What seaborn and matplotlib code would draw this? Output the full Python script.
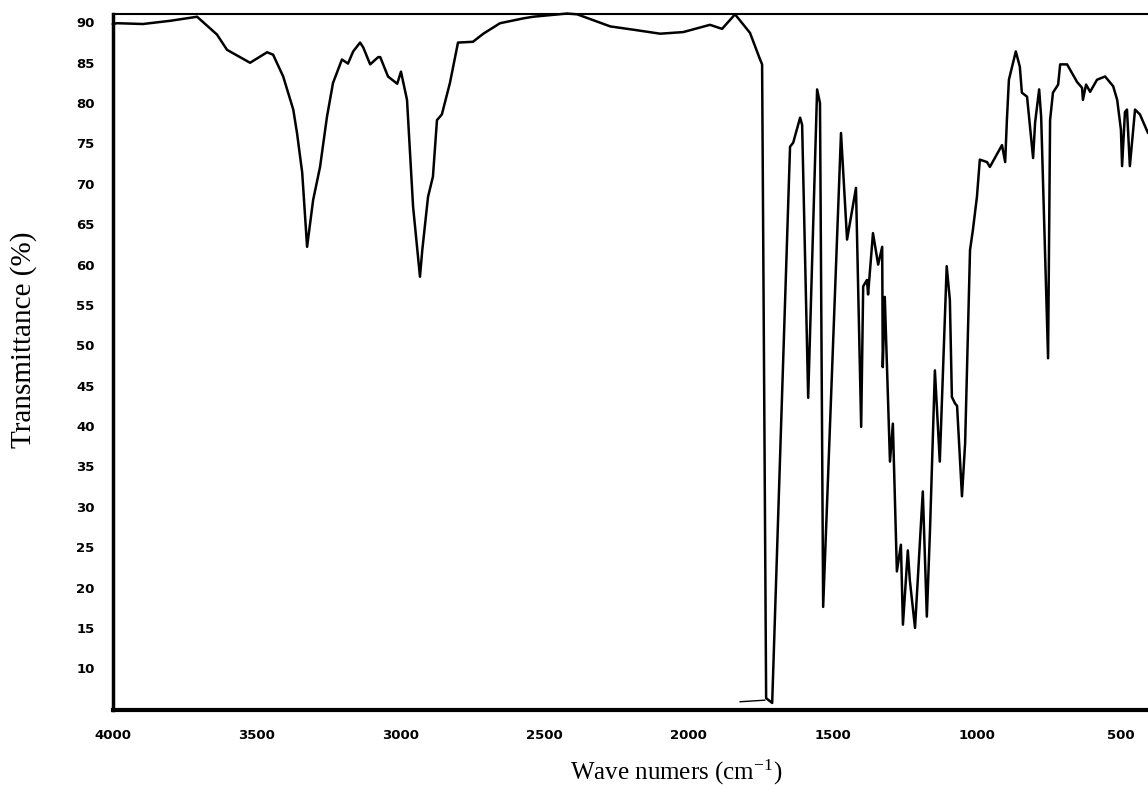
import numpy as np
import pandas as pd
import matplotlib
matplotlib.use("Agg")
import matplotlib.pyplot as plt
import seaborn as sns

# IR spectrum (wavenumber cm-1, transmittance %)
wavenumber = [4000, 3985, 3895, 3800, 3707, 3638, 3603, 3523, 3464, 3443, 3408, 3373,
              3360, 3342, 3325, 3304, 3280, 3256, 3235, 3204, 3183, 3165, 3141, 3130,
              3106, 3078, 3071, 3044, 3012, 2999, 2978, 2957, 2933, 2925, 2905, 2888,
              2874, 2857, 2829, 2801, 2749, 2713, 2655, 2574, 2540, 2422, 2387, 2272,
              2193, 2099, 2019,
              1926, 1884, 1839, 1787, 1752, 1745, 1731, 1710, 1648, 1637, 1613, 1606,
              1585, 1554, 1544, 1533, 1471, 1450, 1419, 1401, 1394, 1381, 1377, 1360,
              1342, 1328, 1326, 1319, 1301, 1291, 1277, 1263, 1256, 1239, 1232, 1214,
              1187, 1173, 1162, 1145, 1128, 1104, 1093, 1086, 1075, 1068, 1051, 1040,
              1023, 1013, 999, 989, 964, 954, 912, 901, 895, 888, 864, 850, 843, 825,
              804, 797, 783, 776, 752, 745, 735, 717, 710, 686, 651, 634, 631, 620,
              606, 582, 554, 526, 512, 499, 495, 485, 478, 468, 450, 433, 405]
transmittance = [89.8, 89.9, 89.8, 90.2, 90.7, 88.5, 86.6, 85.0, 86.3, 86.0, 83.3, 79.2,
                 76.3, 71.4, 62.2, 68.0, 72.1, 78.3, 82.5, 85.4, 84.9, 86.4, 87.5, 86.9,
                 84.8, 85.7, 85.7, 83.3, 82.4, 83.9, 80.4, 67.2, 58.5, 61.8, 68.4, 70.9,
                 77.9, 78.6, 82.5, 87.5, 87.6, 88.6, 89.9, 90.5, 90.7, 91.1, 91.0, 89.5,
                 89.1, 88.6, 88.8,
                 89.7, 89.2, 91.0, 88.7, 85.4, 84.8, 6.3, 5.7, 74.6, 75.1, 78.2, 77.3,
                 43.5, 81.7, 80.0, 17.6, 76.3, 63.1, 69.5, 39.9, 57.3, 58.1, 56.3, 63.9,
                 60.0, 62.2, 47.3, 56.0, 35.6, 40.3, 22.0, 25.3, 15.4, 24.6, 20.9, 15.0,
                 31.9, 16.4, 27.1, 46.9, 35.6, 59.8, 55.6, 43.6, 42.8, 42.5, 31.3, 37.9,
                 61.8, 64.3, 68.4, 73.0, 72.7, 72.1, 74.8, 72.7, 77.9, 82.9, 86.4, 84.5, 81.3, 80.8,
                 73.2, 77.6, 81.7, 78.3, 48.4, 77.9, 81.3, 82.3, 84.8, 84.8, 82.6, 81.9, 80.4, 82.3,
                 81.4, 82.9, 83.3, 82.1, 80.4, 76.7, 72.2, 78.9, 79.2, 72.2, 79.2, 78.6, 76.3]

# short baseline trace near the bottom of the C=O band
artifact_w = [1822, 1735]
artifact_t = [5.85, 6.05]

x_ticks = [4000, 3500, 3000, 2500, 2000, 1500, 1000, 500]
y_ticks = [10, 15, 20, 25, 30, 35, 40, 45, 50, 55, 60, 65, 70, 75, 80, 85, 90]

sns.set_style("white")
plt.rcParams["font.family"] = ["DejaVu Sans"]
plt.rcParams["mathtext.fontset"] = "stix"
plt.rcParams["axes.unicode_minus"] = False

W, H = 1148, 793
fig = plt.figure(figsize=(W / 100, H / 100), dpi=100)
left_px, right_px, top_px, bottom_px = 112.7, 1148, 14, 710
ax = fig.add_axes([left_px / W, 1 - bottom_px / H,
                   (right_px - left_px) / W, (bottom_px - top_px) / H])

df = pd.DataFrame({"w": wavenumber, "t": transmittance})
sns.lineplot(data=df, x="w", y="t", sort=False, estimator=None, ax=ax,
             color="black", linewidth=1.8)
for line in ax.get_lines():
    line.set_clip_on(False)
df2 = pd.DataFrame({"w": artifact_w, "t": artifact_t})
sns.lineplot(data=df2, x="w", y="t", sort=False, estimator=None, ax=ax,
             color="black", linewidth=1.0)

ax.set_xlim(4000, 405)
ax.set_ylim(4.83, 91.04)
ax.set_xticks(x_ticks)
ax.set_yticks(y_ticks)
ax.set_xticklabels([str(v) for v in x_ticks], fontsize=9.5, fontweight="bold")
ax.set_yticklabels([str(v) for v in y_ticks], fontsize=9.5, fontweight="bold")
ax.tick_params(axis="x", direction="out", length=3, width=0.8, pad=11, colors="black")
ax.tick_params(axis="y", length=0, pad=13, colors="black")
ax.set_xlabel("")
ax.set_ylabel("")

for side in ["left", "bottom", "top", "right"]:
    ax.spines[side].set_color("black")
ax.spines["left"].set_linewidth(2.5)
ax.spines["bottom"].set_linewidth(3.0)
ax.spines["top"].set_linewidth(1.5)
ax.spines["right"].set_visible(False)

fig.text(24 / W, 1 - 340 / H, "Transmittance (%)", rotation=90,
         ha="center", va="center", fontsize=21, color="black",
         family=["Liberation Serif", "DejaVu Serif"])
fig.text(676 / W, 1 - 772 / H, "Wave numers (cm$^{\\mathregular{-1}}$)",
         ha="center", va="center", fontsize=18, color="black",
         family=["Liberation Serif", "DejaVu Serif"])

fig.savefig("out.png", dpi=100, facecolor="white")
